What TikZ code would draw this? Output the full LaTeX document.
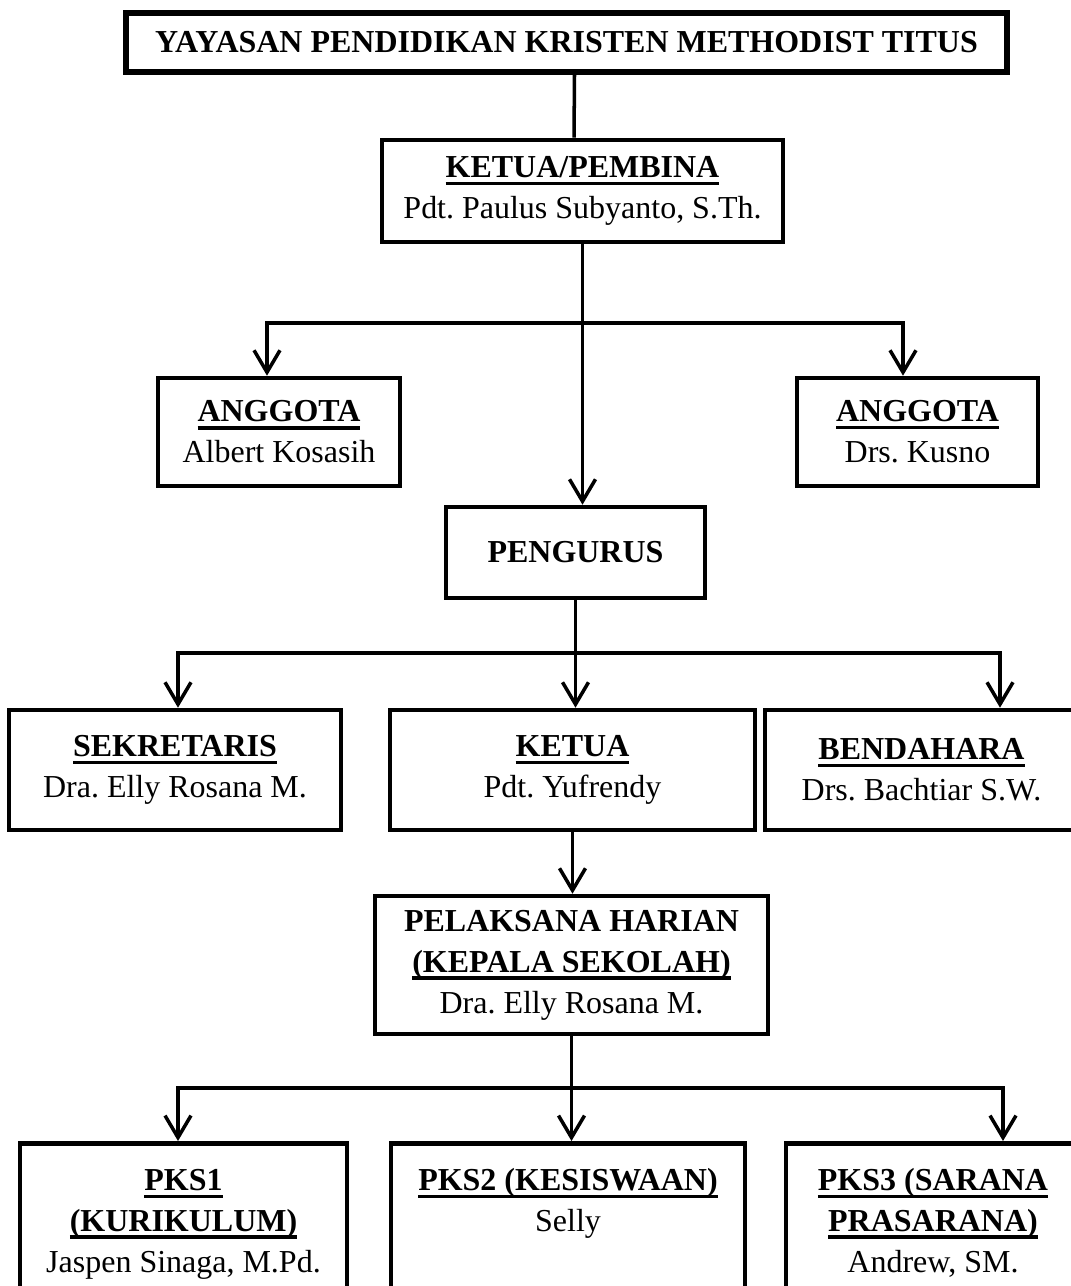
\documentclass[tikz,border=0pt]{standalone}
\usepackage{fontspec}
\setmainfont{Liberation Serif}
\usetikzlibrary{arrows.meta}

\frenchspacing
\newcommand{\hd}[1]{\leavevmode\begingroup\setbox0=\hbox{\textbf{#1}}\rlap{\rule[-4.3pt]{\wd0}{1.9pt}}\box0\endgroup}

\begin{document}
\begin{tikzpicture}[
    frame/.style={draw, line width=2.6pt, inner sep=0pt, font=\fontsize{18.2}{23.3}\selectfont},
    box/.style={frame, align=center},
    line/.style={line width=2pt},
    arr/.style={line width=2pt, -{Straight Barb[length=0.44cm,width=0.52cm]}}
  ]
    \useasboundingbox (0,0) rectangle (21.42,-25.72);

    \node[box, line width=3pt, minimum width=17.62cm, minimum height=1.18cm] (yayasan) at (11.33,-0.85) {\textbf{YAYASAN PENDIDIKAN KRISTEN METHODIST TITUS}};
    \node[box, minimum width=8.02cm, minimum height=2.04cm] (pembina) at (11.65,-3.82) {\hd{KETUA/PEMBINA}\\Pdt. Paulus Subyanto, S.Th.};

    \node[box, minimum width=4.84cm, minimum height=2.16cm] (agl) at (5.58,-8.64) {\hd{ANGGOTA}\\Albert Kosasih};
    \node[box, minimum width=4.82cm, minimum height=2.16cm] (agr) at (18.35,-8.64) {\hd{ANGGOTA}\\Drs. Kusno};

    \node[box, minimum width=5.18cm, minimum height=1.82cm] (pengurus) at (11.51,-11.05) {\textbf{PENGURUS}};

    \node[box, minimum width=6.64cm, minimum height=2.4cm] (sek) at (3.5,-15.4) {\hd{SEKRETARIS}\\Dra. Elly Rosana M.};
    \node[box, minimum width=7.3cm, minimum height=2.4cm] (ketua) at (11.45,-15.4) {\hd{KETUA}\\Pdt. Yufrendy};
    \node[box, minimum width=6.26cm, minimum height=2.4cm] (bend) at (18.43,-15.4) {\hd{BENDAHARA}\\Drs. Bachtiar S.W.};

    \node[box, minimum width=7.86cm, minimum height=2.76cm] (pel) at (11.43,-19.3) {\textbf{PELAKSANA HARIAN}\\\hd{(KEPALA SEKOLAH)}\\Dra. Elly Rosana M.};

    \node[frame, anchor=north] (pks1) at (3.67,-22.82) {\parbox[c][3.3cm][t]{6.54cm}{\centering\rule{0pt}{0.94cm}\hd{PKS1}\par\hd{(KURIKULUM)}\par Jaspen Sinaga, M.Pd.}};
    \node[frame, anchor=north] (pks2) at (11.36,-22.82) {\parbox[c][3.3cm][t]{7.08cm}{\centering\rule{0pt}{0.94cm}\hd{PKS2 (KESISWAAN)}\par Selly}};
    \node[frame, anchor=north] (pks3) at (18.66,-22.82) {\parbox[c][3.3cm][t]{5.88cm}{\centering\rule{0pt}{0.94cm}\hd{PKS3 (SARANA}\par\hd{PRASARANA)}\par Andrew, SM.}};

    \coordinate (c1) at (11.65,-6.46);
    \coordinate (c2) at (11.51,-13.06);
    \coordinate (c3) at (11.43,-21.76);

    \draw[line] ([xshift=0.16cm]yayasan.south) -- ([xshift=-0.17cm]pembina.north);
    \draw[arr] (pembina.south) -- (pembina.south |- pengurus.north);
    \draw[arr] (c1) -| ([xshift=-0.24cm]agl.north);
    \draw[arr] (c1) -| ([xshift=-0.29cm]agr.north);

    \draw[arr] (pengurus.south) -- (pengurus.south |- ketua.north);
    \draw[arr] (c2) -| ([xshift=0.06cm]sek.north);
    \draw[arr] (c2) -| ([xshift=1.57cm]bend.north);

    \draw[arr] (ketua.south) -- (ketua.south |- pel.north);
    \draw[line] (pel.south) -- (c3);
    \draw[arr] (c3) -| ([xshift=-0.11cm]pks1.north);
    \draw[arr] (c3) -- (c3 |- pks2.north);
    \draw[arr] (c3) -| ([xshift=1.4cm]pks3.north);
  \end{tikzpicture}
\end{document}
